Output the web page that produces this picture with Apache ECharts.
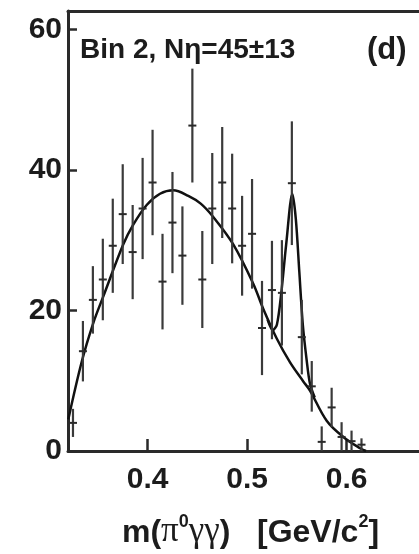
<!DOCTYPE html>
<html>
<head>
<meta charset="utf-8">
<script src="https://cdn.jsdelivr.net/npm/echarts@6/dist/echarts.min.js"></script>
<style>
  html, body { margin: 0; padding: 0; background: #ffffff; }
  #chart { width: 419px; height: 554px; }
</style>
</head>
<body>
<div id="chart"></div>
<script>
// Invariant mass bins (GeV/c^2), bin centres
const massBins = [0.325, 0.335, 0.345, 0.355, 0.365, 0.375, 0.385, 0.395, 0.405, 0.415,
                  0.425, 0.435, 0.445, 0.455, 0.465, 0.475, 0.485, 0.495, 0.505, 0.515,
                  0.525, 0.535, 0.545, 0.555, 0.565, 0.575, 0.585, 0.595, 0.605, 0.615];
// Entries per bin
const counts = [4.0, 14.2, 21.5, 24.4, 29.2, 33.7, 28.3, 34.5, 38.2, 24.1,
                32.5, 27.8, 46.3, 24.4, 34.5, 38.2, 34.5, 29.2, 30.9, 17.5,
                22.9, 22.5, 38.1, 16.2, 9.2, 1.3, 6.2, 2.0, 1.4, 0.9];
// Statistical uncertainty per bin
const errors = [2.0, 4.3, 4.8, 5.8, 6.7, 7.1, 6.7, 7.2, 7.5, 6.8,
                7.2, 7.0, 8.1, 6.9, 7.9, 7.9, 7.8, 7.1, 7.8, 6.7,
                7.0, 7.5, 8.8, 5.3, 3.6, 2.2, 2.8, 2.1, 1.5, 0.9];

// Fitted background shape
const bgMass = [0.3203, 0.3338, 0.3454, 0.3555, 0.3756, 0.3856, 0.3991, 0.4125, 0.4258, 0.4409,
                0.4534, 0.4660, 0.4861, 0.5062, 0.5163, 0.5298, 0.5432, 0.5565, 0.5632, 0.5800,
                0.5967, 0.6135, 0.6195];
const bgFit = [4.5, 12.7, 18.2, 22.0, 29.4, 32.2, 35.0, 36.6, 37.1, 36.3,
               35.2, 33.3, 29.4, 23.8, 20.2, 16.0, 12.6, 9.9, 8.6, 4.3,
               2.0, 0.4, 0.0];

// Fitted signal + background around the eta peak
const peakMass = [0.5206, 0.5259, 0.5300, 0.5343, 0.5393, 0.5455, 0.5490, 0.5525, 0.5560, 0.5600, 0.5632, 0.5680];
const peakFit = [18.7, 17.2, 18.0, 22.4, 29.4, 36.6, 33.0, 25.5, 18.0, 12.8, 9.6, 7.6];

// Axis ticks
const xTicks = [0.4, 0.5, 0.6];
const yTicks = [0, 20, 40, 60];

const pointData = massBins.map((m, i) => [m, counts[i], errors[i]]);
const bgData = bgMass.map((m, i) => [m, bgFit[i]]);
const peakData = peakMass.map((m, i) => [m, peakFit[i]]);

const ink = '#1c1c1c';
const frame = '#2a2a2a';
const labelFont = 'Liberation Sans';
const X_MIN = 0.32, X_MAX = 0.6728;

const chart = echarts.init(document.getElementById('chart'), null, { renderer: 'canvas' });

chart.setOption({
  animation: false,
  backgroundColor: '#ffffff',
  grid: { left: 68, top: 11, right: 0, bottom: 93, show: false },
  xAxis: [
    {
      type: 'value',
      min: X_MIN, max: X_MAX,
      axisLine: { show: true, lineStyle: { color: frame, width: 3 } },
      axisTick: { show: true, inside: true, length: 12, customValues: xTicks,
                  lineStyle: { color: frame, width: 2.5 } },
      axisLabel: { show: true, customValues: xTicks, margin: 14,
                   formatter: v => v.toFixed(1),
                   fontFamily: labelFont, fontWeight: 'bold', fontSize: 30, color: ink },
      splitLine: { show: false },
      name: '{t|m(}{g|π}{s|0}{g|γγ}{t|)   [GeV/c}{s|2}{t|]}',
      nameLocation: 'middle',
      nameGap: 62,
      nameTextStyle: {
        padding: [0, 0, 0, 14],
        rich: {
          t: { fontFamily: labelFont, fontWeight: 'bold', fontSize: 32, color: ink, lineHeight: 36, verticalAlign: 'bottom' },
          g: { fontFamily: 'Liberation Serif', fontWeight: 'normal', fontSize: 35, color: ink, lineHeight: 36, verticalAlign: 'bottom' },
          s: { fontFamily: labelFont, fontWeight: 'bold', fontSize: 18, color: ink, lineHeight: 36, verticalAlign: 'top' }
        }
      }
    },
    {
      // upper frame edge
      type: 'value',
      position: 'top',
      min: X_MIN, max: X_MAX,
      axisLine: { show: true, lineStyle: { color: frame, width: 3 } },
      axisTick: { show: false },
      axisLabel: { show: false },
      splitLine: { show: false }
    }
  ],
  yAxis: {
    type: 'value',
    min: 0, max: 62.6,
    axisLine: { show: true, lineStyle: { color: frame, width: 3 } },
    axisTick: { show: true, inside: true, length: 9, customValues: yTicks,
                lineStyle: { color: frame, width: 2.5 } },
    axisLabel: { show: true, customValues: yTicks, margin: 6,
                 fontFamily: labelFont, fontWeight: 'bold', fontSize: 30, color: ink },
    splitLine: { show: false }
  },
  graphic: [
    { type: 'text', left: 80, top: 36, z: 10,
      style: { text: 'Bin 2, Nη=45±13', font: 'bold 28px "Liberation Sans"', fill: ink } },
    { type: 'text', left: 367, top: 35, z: 10,
      style: { text: '(d)', font: 'bold 31px "Liberation Sans"', fill: ink } }
  ],
  series: [
    {
      name: 'background fit',
      type: 'line',
      data: bgData,
      smooth: 0.35,
      showSymbol: false,
      clip: true,
      lineStyle: { color: '#111111', width: 2.5 },
      z: 3
    },
    {
      name: 'signal + background fit',
      type: 'line',
      data: peakData,
      smooth: 0.3,
      showSymbol: false,
      clip: true,
      lineStyle: { color: '#111111', width: 2.5 },
      z: 3
    },
    {
      name: 'data',
      type: 'custom',
      data: pointData,
      clip: true,
      z: 4,
      renderItem: function (params, api) {
        const x = api.value(0), y = api.value(1), e = api.value(2);
        const top = api.coord([x, y + e]);
        const bot = api.coord([x, Math.max(y - e, 0)]);
        const mid = api.coord([x, y]);
        return {
          type: 'group',
          children: [
            { type: 'line', shape: { x1: top[0], y1: top[1], x2: bot[0], y2: bot[1] },
              style: { stroke: '#3a3a3a', lineWidth: 2.2 } },
            { type: 'line', shape: { x1: mid[0] - 4, y1: mid[1], x2: mid[0] + 4, y2: mid[1] },
              style: { stroke: '#2a2a2a', lineWidth: 2 } }
          ]
        };
      }
    }
  ]
});
</script>
</body>
</html>
